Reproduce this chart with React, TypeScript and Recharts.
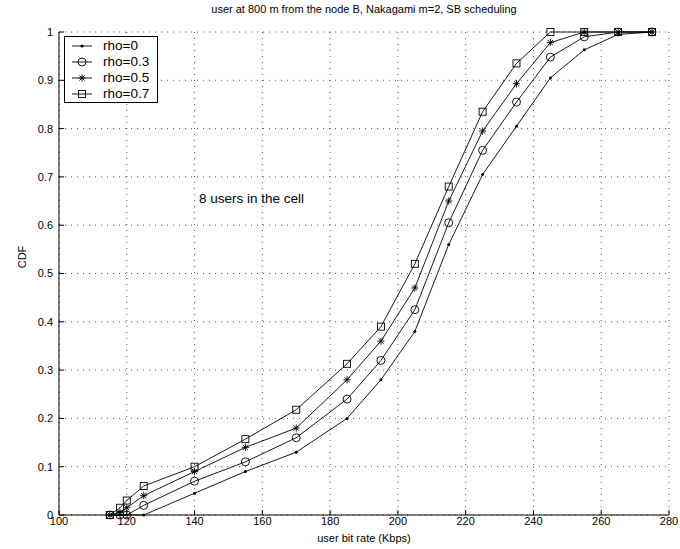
import React from 'react';
import { ComposedChart, Line, XAxis, YAxis, CartesianGrid, ReferenceDot } from 'recharts';

// bit rate sample points (Kbps), shared by every curve
const bitRates = [115, 118, 120, 125, 140, 155, 170, 185, 195, 205, 215, 225, 235, 245, 255, 265, 275];

// CDF values per correlation coefficient
const rho0 = [0, 0, 0, 0, 0.045, 0.09, 0.13, 0.2, 0.28, 0.38, 0.56, 0.705, 0.805, 0.905, 0.963, 0.995, 1];
const rho03 = [0, 0, 0, 0.02, 0.07, 0.11, 0.16, 0.24, 0.32, 0.425, 0.605, 0.755, 0.855, 0.948, 0.99, 1, 1];
const rho05 = [0, 0.005, 0.015, 0.04, 0.09, 0.14, 0.18, 0.28, 0.36, 0.47, 0.65, 0.795, 0.893, 0.978, 1, 1, 1];
const rho07 = [0, 0.015, 0.03, 0.06, 0.1, 0.157, 0.218, 0.313, 0.39, 0.52, 0.68, 0.835, 0.935, 1, 1, 1, 1];

const xTicks = [100, 120, 140, 160, 180, 200, 220, 240, 260, 280];
const yTicks = [0, 0.1, 0.2, 0.3, 0.4, 0.5, 0.6, 0.7, 0.8, 0.9, 1];

const seriesNames = ['rho=0', 'rho=0.3', 'rho=0.5', 'rho=0.7'];
const seriesKeys = ['r0', 'r3', 'r5', 'r7'];
const markerKinds = ['dot', 'circle', 'star', 'square'];

const titleText = 'user at 800 m from the node B, Nakagami m=2, SB scheduling';
const xLabel = 'user bit rate (Kbps)';
const yLabel = 'CDF';
const annotation = '8 users in the cell';

const data = bitRates.map((x, i) => ({ x, r0: rho0[i], r3: rho03[i], r5: rho05[i], r7: rho07[i] }));

const FONT = '"Liberation Sans", Arial, Helvetica, sans-serif';

function Marker({ kind, cx, cy }: { kind: string; cx: number; cy: number }) {
    if (kind === 'dot') return <circle cx={cx} cy={cy} r={1.5} fill="#000" />;
    if (kind === 'circle') return <circle cx={cx} cy={cy} r={4} fill="none" stroke="#000" strokeWidth={0.9} />;
    if (kind === 'square') return <rect x={cx - 3.5} y={cy - 3.5} width={7} height={7} fill="none" stroke="#000" strokeWidth={0.9} />;
    const s = 3.6, d = 2.6;
    return (
        <g stroke="#000" strokeWidth={0.9}>
            <line x1={cx - s} y1={cy} x2={cx + s} y2={cy} />
            <line x1={cx} y1={cy - s} x2={cx} y2={cy + s} />
            <line x1={cx - d} y1={cy - d} x2={cx + d} y2={cy + d} />
            <line x1={cx - d} y1={cy + d} x2={cx + d} y2={cy - d} />
        </g>
    );
}

const makeDot = (kind: string) => (props: any) => {
    const { cx, cy, index } = props;
    if (cx == null || cy == null) return <g key={`${kind}-${index}`} />;
    return <g key={`${kind}-${index}`}><Marker kind={kind} cx={cx} cy={cy} /></g>;
};

const fmtY = (v: number) => String(+v.toFixed(1));
const blank = () => '';

export default function App() {
    return (
        <div style={{ position: 'absolute', left: 0, top: 0, width: 680, height: 549, background: '#fff', fontFamily: FONT }}>
            <ComposedChart width={680} height={549} data={data} margin={{ top: 32, right: 11, bottom: 0, left: 0 }}>
                <CartesianGrid stroke="#555" strokeDasharray="1 5" strokeWidth={1} />
                <XAxis
                    dataKey="x"
                    type="number"
                    domain={[100, 280]}
                    ticks={xTicks}
                    interval={0}
                    height={34}
                    tickSize={-5}
                    tickMargin={7}
                    axisLine={{ stroke: '#000' }}
                    tickLine={{ stroke: '#000' }}
                    tick={{ fill: '#000', fontSize: 11, fontFamily: FONT }}
                />
                <XAxis
                    xAxisId="top"
                    orientation="top"
                    dataKey="x"
                    type="number"
                    domain={[100, 280]}
                    ticks={xTicks}
                    interval={0}
                    height={0}
                    tickSize={-5}
                    tickFormatter={blank}
                    axisLine={{ stroke: '#000' }}
                    tickLine={{ stroke: '#000' }}
                />
                <YAxis
                    type="number"
                    domain={[0, 1]}
                    ticks={yTicks}
                    interval={0}
                    width={59}
                    tickSize={-5}
                    tickMargin={11}
                    tickFormatter={fmtY}
                    axisLine={{ stroke: '#000' }}
                    tickLine={{ stroke: '#000' }}
                    tick={{ fill: '#000', fontSize: 11, fontFamily: FONT }}
                />
                <YAxis
                    yAxisId="right"
                    orientation="right"
                    type="number"
                    domain={[0, 1]}
                    ticks={yTicks}
                    interval={0}
                    width={0}
                    tickSize={-5}
                    tickFormatter={blank}
                    axisLine={{ stroke: '#000' }}
                    tickLine={{ stroke: '#000' }}
                />
                {seriesKeys.map((k, i) => (
                    <Line
                        key={k}
                        dataKey={k}
                        name={seriesNames[i]}
                        stroke="#000"
                        strokeWidth={0.9}
                        dot={makeDot(markerKinds[i])}
                        activeDot={false}
                        isAnimationActive={false}
                    />
                ))}
                <ReferenceDot
                    x={139.8}
                    y={0.656}
                    r={0}
                    fill="none"
                    stroke="none"
                    label={{ value: annotation, position: 'right', offset: 5, fill: '#000', fontSize: 13.5, fontFamily: FONT }}
                />
            </ComposedChart>

            {/* title and axis labels */}
            <div style={{ position: 'absolute', left: 59, width: 610, top: 3, textAlign: 'center', fontSize: 11, color: '#000' }}>
                {titleText}
            </div>
            <div style={{ position: 'absolute', left: 59, width: 610, top: 532, textAlign: 'center', fontSize: 11, color: '#000' }}>
                {xLabel}
            </div>
            <div style={{ position: 'absolute', left: 2, top: 251, width: 40, textAlign: 'center', fontSize: 11, color: '#000', transform: 'rotate(-90deg)' }}>
                {yLabel}
            </div>

            {/* legend box */}
            <div style={{ position: 'absolute', left: 64, top: 36, width: 92, height: 65, border: '1px solid #000', background: '#fff' }}>
                {seriesNames.map((name, i) => (
                    <div key={name} style={{ position: 'absolute', left: 0, top: 1 + i * 15.9, height: 16, display: 'flex', alignItems: 'center' }}>
                        <svg width={36} height={16}>
                            <line x1={7} y1={8} x2={27} y2={8} stroke="#000" strokeWidth={0.9} />
                            <Marker kind={markerKinds[i]} cx={17} cy={8} />
                        </svg>
                        <span style={{ fontSize: 13.5, color: '#000', marginLeft: 2, lineHeight: '16px' }}>{name}</span>
                    </div>
                ))}
            </div>
        </div>
    );
}
